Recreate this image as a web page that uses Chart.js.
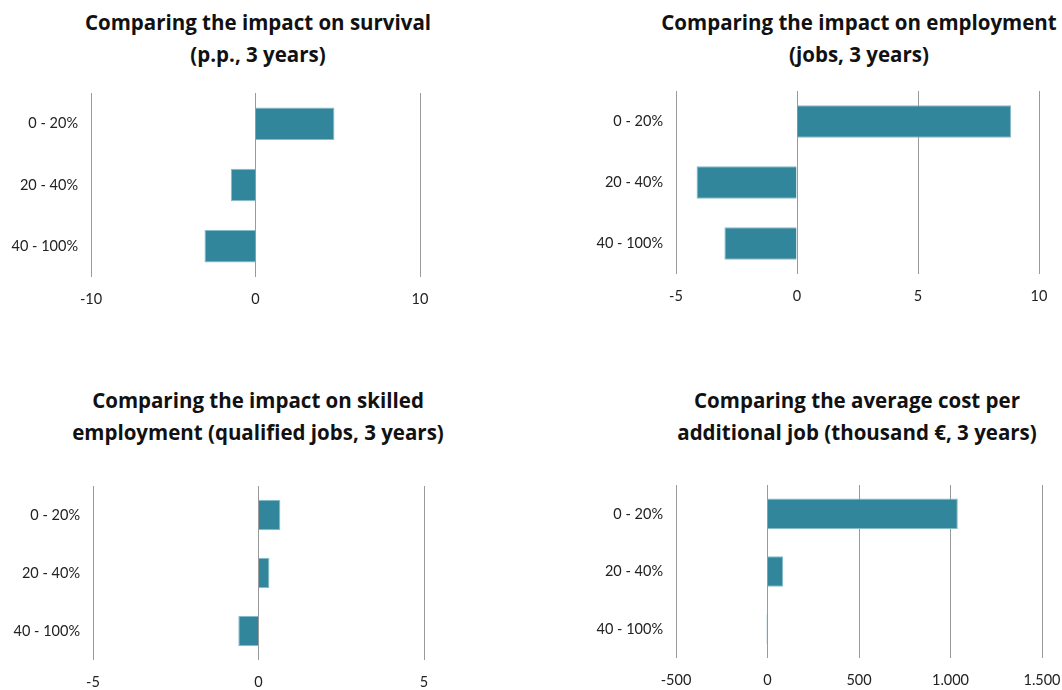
<!DOCTYPE html>
<html>
<head>
<meta charset="utf-8">
<script src="https://cdn.jsdelivr.net/npm/chart.js@4.4.1/dist/chart.umd.min.js"></script>
<style>
  html, body { margin: 0; padding: 0; background: #fff; width: 1062px; height: 690px; overflow: hidden; position: relative; }
  .title { position: absolute; font-family: "Open Sans", Lato, sans-serif; font-weight: bold; font-size: 20.5px; line-height: 32px; color: #111; text-align: center; white-space: nowrap; }
  .box { position: absolute; }
</style>
</head>
<body>
<div class="title" style="left:58px; top:6px; width:400px;">Comparing the impact on survival<br>(p.p., 3 years)</div>
<div class="title" style="left:659px; top:6px; width:400px;">Comparing the impact on employment<br>(jobs, 3 years)</div>
<div class="title" style="left:58px; top:384px; width:400px;">Comparing the impact on skilled<br>employment (qualified jobs, 3 years)</div>
<div class="title" style="left:657px; top:384px; width:400px;">Comparing the average cost per<br>additional job (thousand €, 3 years)</div>

<div class="box" id="boxSurvival"><canvas id="cSurvival"></canvas></div>
<div class="box" id="boxEmployment"><canvas id="cEmployment"></canvas></div>
<div class="box" id="boxSkilled"><canvas id="cSkilled"></canvas></div>
<div class="box" id="boxCost"><canvas id="cCost"></canvas></div>

<script>
// size classes (same for every panel)
const categories = ['0 - 20%', '20 - 40%', '40 - 100%'];

// values per panel
const survivalValues = [4.8, -1.5, -3.1];
const employmentValues = [8.85, -4.15, -3.0];
const skilledValues = [0.66, 0.33, -0.61];
const costValues = [1040, 85, -5];

// axis ranges [min, max, step]
const survivalRange = [-10, 10, 10];
const employmentRange = [-5, 10, 5];
const skilledRange = [-5, 5, 5];
const costRange = [-500, 1500, 500];

const BAR_COLOR = '#32869c';
const GRID_COLOR = '#9a9a9a';
const LABEL_W = 90;   // width reserved for category labels
const AXIS_H = 40;    // height reserved for value labels
const PAD_R = 20;

function thousands(v) {
    const s = String(Math.abs(v)).replace(/\B(?=(\d{3})+(?!\d))/g, '.');
    return (v < 0 ? '-' : '') + s;
}

// plot = {left, top, width, height} of the bar area in page pixels
function makeChart(boxId, canvasId, values, range, plot) {
    const box = document.getElementById(boxId);
    box.style.left = (plot.left - LABEL_W) + 'px';
    box.style.top = plot.top + 'px';
    box.style.width = (LABEL_W + plot.width + PAD_R) + 'px';
    box.style.height = (plot.height + AXIS_H) + 'px';

    return new Chart(document.getElementById(canvasId), {
        type: 'bar',
        data: {
            labels: categories,
            datasets: [{
                data: values,
                backgroundColor: BAR_COLOR,
                borderColor: '#86bccb',
                borderWidth: 1,
                categoryPercentage: 1,
                barPercentage: 0.53
            }]
        },
        options: {
            indexAxis: 'y',
            responsive: true,
            maintainAspectRatio: false,
            animation: false,
            layout: { padding: { left: 0, right: PAD_R, top: 0, bottom: 0 } },
            plugins: { legend: { display: false }, tooltip: { enabled: false } },
            scales: {
                x: {
                    min: range[0], max: range[1],
                    ticks: {
                        stepSize: range[2],
                        padding: 14,
                        color: '#222',
                        font: { family: 'Lato', size: 14.5 },
                        maxRotation: 0,
                        callback: v => thousands(v)
                    },
                    grid: { color: GRID_COLOR, lineWidth: 1, drawTicks: false },
                    border: { display: false },
                    afterFit: s => { s.height = AXIS_H; s.paddingLeft = 0; s.paddingRight = 0; }
                },
                y: {
                    ticks: {
                        padding: 13,
                        color: '#222',
                        font: { family: 'Lato', size: 14.5 }
                    },
                    grid: { display: false, drawTicks: false },
                    border: { display: false },
                    // keep the bar area flush with the box top
                    afterFit: s => { s.width = LABEL_W; s.paddingTop = 0; s.paddingBottom = 0; }
                }
            }
        }
    });
}

makeChart('boxSurvival', 'cSurvival', survivalValues, survivalRange,
    { left: 91, top: 93, width: 329, height: 184 });
makeChart('boxEmployment', 'cEmployment', employmentValues, employmentRange,
    { left: 676, top: 91, width: 363, height: 183 });
makeChart('boxSkilled', 'cSkilled', skilledValues, skilledRange,
    { left: 93, top: 486, width: 331, height: 174 });
makeChart('boxCost', 'cCost', costValues, costRange,
    { left: 676, top: 485, width: 366, height: 173 });
</script>
</body>
</html>
